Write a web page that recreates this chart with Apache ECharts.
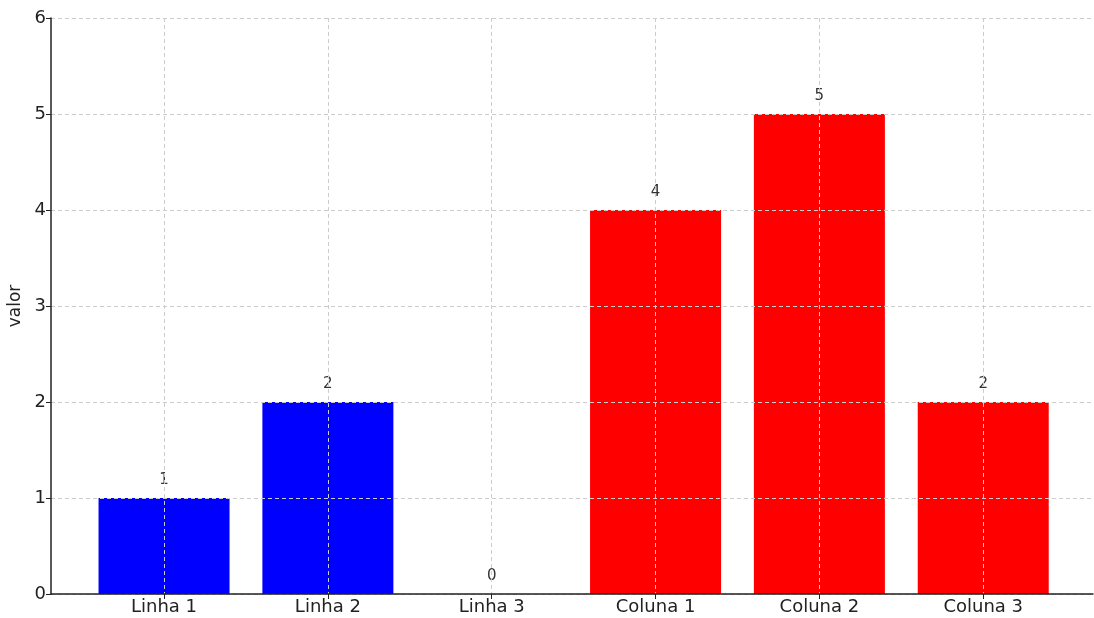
<!DOCTYPE html>
<html>
<head>
<meta charset="utf-8">
<script src="https://cdn.jsdelivr.net/npm/echarts@6/dist/echarts.min.js"></script>
<style>
  html, body { margin: 0; padding: 0; background: #fff; }
  #chart { width: 1094px; height: 618px; }
</style>
</head>
<body>
<div id="chart"></div>
<script>
// Categories and values
const categories = ['Linha 1', 'Linha 2', 'Linha 3', 'Coluna 1', 'Coluna 2', 'Coluna 3'];
const values = [1, 2, 0, 4, 5, 2];
const barColors = ['#0000ff', '#0000ff', '#0000ff', '#ff0000', '#ff0000', '#ff0000'];
const yTicks = [0, 1, 2, 3, 4, 5, 6];

const FONT = 'DejaVu Sans';
const positions = categories.map((_, i) => i);

const chart = echarts.init(document.getElementById('chart'), null, { renderer: 'canvas' });

const gridStyle = { color: '#cccccc', width: 1, type: [4, 3] };

chart.setOption({
  animation: false,
  textStyle: { fontFamily: FONT },
  grid: { left: 51, right: 1, top: 18, bottom: 24, containLabel: false, outerBoundsMode: 'none' },
  xAxis: {
    type: 'value',
    min: -0.69,
    max: 5.67,
    z: 5,
    axisLine: { show: true, onZero: false, lineStyle: { color: '#222', width: 1.5 } },
    axisTick: { show: true, customValues: positions, length: 5, lineStyle: { color: '#222' } },
    axisLabel: {
      customValues: positions,
      formatter: v => categories[Math.round(v)] || '',
      color: '#222', fontSize: 18, fontFamily: FONT, margin: 4
    },
    splitLine: { show: true, lineStyle: gridStyle }
  },
  yAxis: {
    type: 'value',
    min: 0,
    max: 6,
    interval: 1,
    z: 5,
    name: 'valor',
    nameLocation: 'middle',
    nameGap: 24,
    nameRotate: 90,
    nameTextStyle: { color: '#222', fontSize: 17, fontFamily: FONT },
    axisLine: { show: true, onZero: false, lineStyle: { color: '#222', width: 1.5 } },
    axisTick: { show: true, length: 5, lineStyle: { color: '#222' } },
    axisLabel: {
      formatter: v => (yTicks.includes(v) ? String(v) : ''),
      color: '#222', fontSize: 18, fontFamily: FONT, margin: 5
    },
    splitLine: { show: true, lineStyle: gridStyle }
  },
  series: [{
    type: 'bar',
    barWidth: 131,
    z: 1,
    data: values.map((v, i) => ({
      value: [i, v],
      itemStyle: { color: barColors[i] }
    })),
    label: {
      show: true,
      position: 'top',
      distance: 10,
      formatter: p => String(p.value[1]),
      color: '#333', fontSize: 15, fontFamily: FONT
    }
  }]
});
</script>
</body>
</html>
